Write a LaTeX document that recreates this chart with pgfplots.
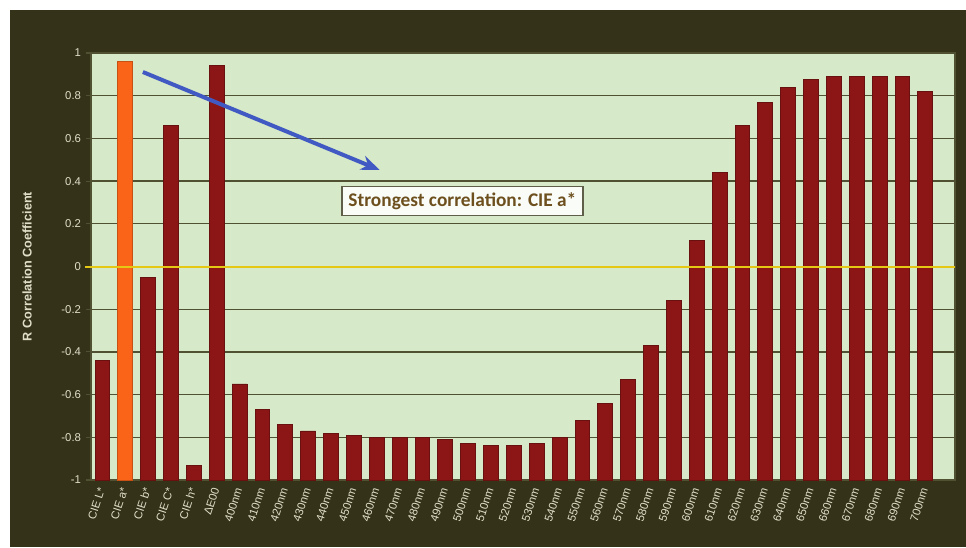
\documentclass[border=0pt]{standalone}
\usepackage{pgfplots}
\usepackage{pgfplotstable}
\pgfplotsset{compat=1.18}
\usepackage{fontspec}
\setmainfont{Liberation Sans}
\newfontfamily\carlito{Carlito}
\usetikzlibrary{arrows.meta}

\definecolor{darkbg}{RGB}{52,51,26}
\definecolor{plotbg}{RGB}{214,233,200}
\definecolor{barred}{RGB}{140,22,22}
\definecolor{barorange}{RGB}{250,100,25}
\definecolor{gridc}{RGB}{80,80,50}
\definecolor{ticktext}{RGB}{225,222,200}
\definecolor{zeroy}{RGB}{228,200,20}
\definecolor{arrowblue}{RGB}{65,90,195}
\definecolor{boxtext}{RGB}{110,80,30}

% values of R; bars are drawn up from the axis bottom at -1
\pgfplotstableread{
x y
0 -0.44
2 -0.05
3 0.66
4 -0.93
5 0.94
6 -0.55
7 -0.67
8 -0.74
9 -0.77
10 -0.78
11 -0.79
12 -0.80
13 -0.80
14 -0.80
15 -0.81
16 -0.83
17 -0.84
18 -0.84
19 -0.83
20 -0.80
21 -0.72
22 -0.64
23 -0.53
24 -0.37
25 -0.16
26 0.12
27 0.44
28 0.66
29 0.77
30 0.84
31 0.875
32 0.89
33 0.89
34 0.89
35 0.89
36 0.82
}\reddata

\begin{document}
\begin{tikzpicture}[x=0.75pt,y=0.75pt]
\useasboundingbox (0,0) rectangle (966,547);
\fill[white] (0,0) rectangle (966,547);
\fill[darkbg] (10,0) rectangle (966,537);
\begin{axis}[
  at={(68.25pt,50.25pt)}, anchor=south west,
  scale only axis, width=648pt, height=320.25pt,
  xmin=-0.5, xmax=37.3, ymin=0, ymax=2,
  axis background/.style={fill=plotbg},
  axis line style={gridc, line width=0.8pt},
  ymajorgrids, grid style={gridc, line width=1pt},
  ytick={0,0.2,0.4,0.6,0.8,1,1.2,1.4,1.6,1.8,2},
  yticklabels={-1,-0.8,-0.6,-0.4,-0.2,0,0.2,0.4,0.6,0.8,1},
  ytick pos=left, tick align=outside,
  major tick length=4pt,
  y tick style={gridc, line width=0.8pt},
  xtick={0,...,36},
  xticklabels={CIE L*,CIE a*,CIE b*,CIE C*,CIE h*,ΔE00,400nm,410nm,420nm,430nm,440nm,450nm,460nm,470nm,480nm,490nm,500nm,510nm,520nm,530nm,540nm,550nm,560nm,570nm,580nm,590nm,600nm,610nm,620nm,630nm,640nm,650nm,660nm,670nm,680nm,690nm,700nm},
  x tick style={draw=none},
  xticklabel style={rotate=72, anchor=east, text=ticktext, font=\fontsize{8.5}{9}\selectfont, inner sep=2pt},
  yticklabel style={text=ticktext, font=\fontsize{8.5}{10}\selectfont},
  ylabel={R Correlation Coefficient},
  ylabel style={at={(axis description cs:-0.074,0.5)}, anchor=center, text=ticktext, font=\bfseries\fontsize{9.5}{11}\selectfont},
  ybar, bar width=0.65, bar shift=0pt,
  clip=false,
]
\addplot[fill=barred, draw=barred!75!black, line width=0.6pt, y filter/.expression={y+1}] table[x=x,y=y] {\reddata};
\addplot[fill=barorange, draw=barorange!80!black, line width=0.6pt, y filter/.expression={y+1}] coordinates {(1,0.96)};
\draw[zeroy, line width=1.5pt] (axis cs:-0.75,1) -- (axis cs:37.3,1);
\draw[arrowblue, line width=3pt, -{Stealth[length=14pt,width=11pt]}] (axis cs:1.77,1.911) -- (axis cs:12.13,1.452);
\node[draw=gridc!70!gray, line width=1.2pt, fill=white!85!plotbg, text=boxtext, font=\carlito\bfseries\fontsize{14.5}{16}\selectfont, inner xsep=5pt, inner ysep=4.5pt] at (axis cs:15.75,1.307) {Strongest correlation: CIE a*};
\end{axis}
\end{tikzpicture}
\end{document}
